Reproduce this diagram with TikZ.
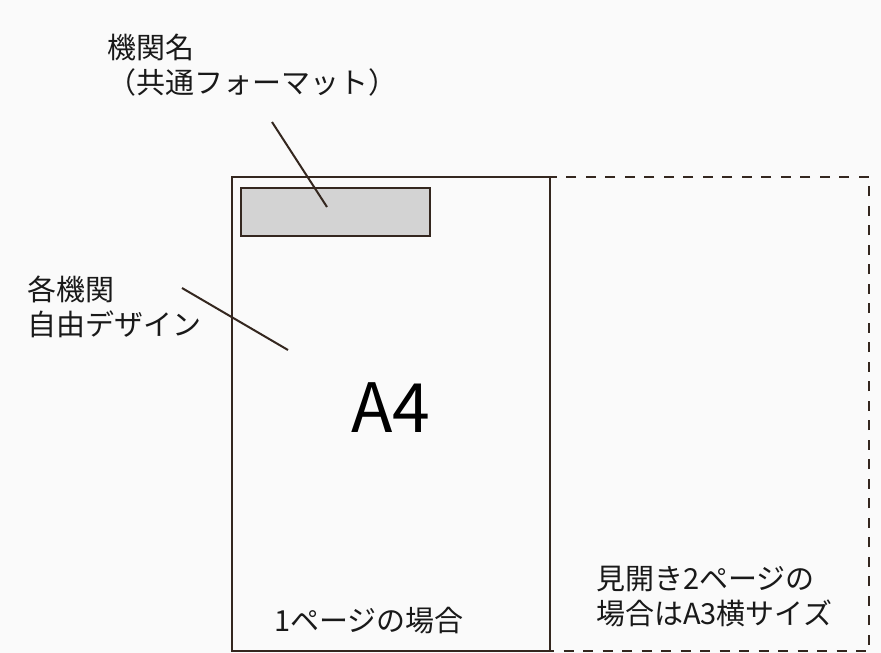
\documentclass[tikz,border=0pt]{standalone}
\usepackage{fontspec}
\setmainfont{Noto Sans CJK JP}
\usetikzlibrary{positioning}

\definecolor{ink}{HTML}{34271F}
\definecolor{paper}{HTML}{FAFAFA}
\definecolor{headgray}{HTML}{D3D3D3}

\begin{document}
\begin{tikzpicture}[x=1pt, y=-1pt,
    frame/.style={draw=ink, line width=2pt},
    dashframe/.style={draw=ink, line width=2pt, dash pattern=on 10pt off 9.5pt},
    lbl/.style={font=\fontsize{29}{35}\selectfont, align=left, inner sep=0pt, text=black!90},
    leader/.style={draw=ink, line width=2pt}]
    % Background
    \fill[paper] (0,0) rectangle (881,653);
    \useasboundingbox (0,0) rectangle (881,653);

    % Spread (A3)
    \draw[dashframe] (550,177) rectangle (869,651);

    % Page (A4)
    \draw[frame] (232,177) rectangle (550,651);

    % Header
    \draw[frame, fill=headgray] (241,188) rectangle (430,236);

    % Labels
    \node[lbl, anchor=west] (orgname) at (107,65) {機関名\\（共通フォーマット）};
    \node[lbl, anchor=west] (freedesign) at (27,307) {各機関\\自由デザイン};
    \node[lbl, anchor=west] (spread) at (596,597) {見開き2ページの\\場合はA3横サイズ};
    \node[lbl, anchor=west] (single) at (274,621) {1ページの場合};
    \node[inner sep=0pt, font=\fontsize{68}{68}\selectfont, text=black] (size) at (391,408) {A4};

    % Leader lines
    \coordinate (orgtip) at (272,122);
    \coordinate (orgend) at (327,207);
    \coordinate (freetip) at (182,288);
    \coordinate (freeend) at (288,350);
    \draw[leader] (orgtip) -- (orgend);
    \draw[leader] (freetip) -- (freeend);
\end{tikzpicture}
\end{document}
